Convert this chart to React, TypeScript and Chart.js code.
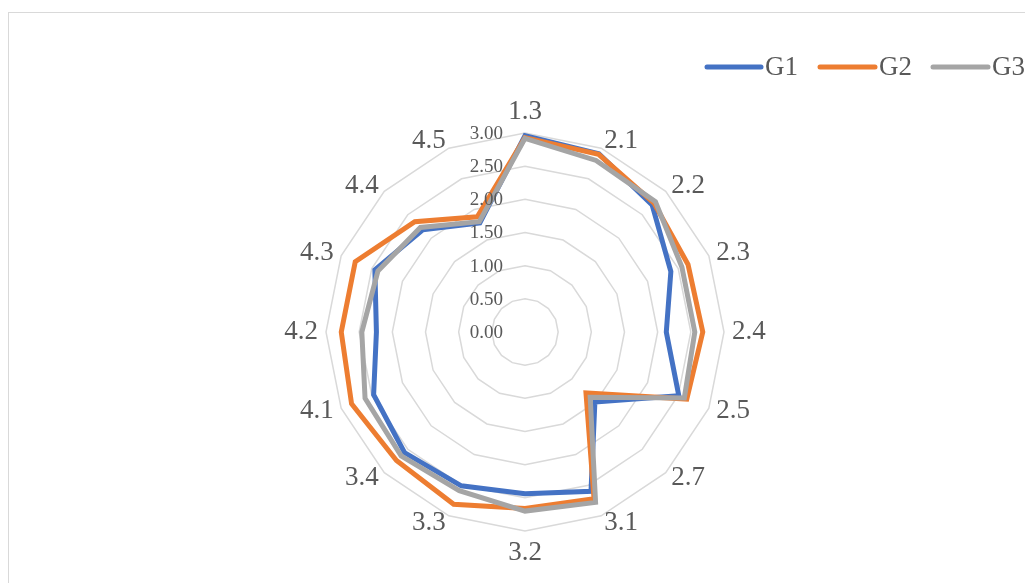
import React, { useEffect, useRef } from 'react';
import { Chart, registerables } from 'chart.js';

Chart.register(...registerables);

const categories = ['1.3', '2.1', '2.2', '2.3', '2.4', '2.5', '2.7', '3.1', '3.2', '3.3', '3.4', '4.1', '4.2', '4.3', '4.4', '4.5'];
const seriesNames = ['G1', 'G2', 'G3'];
const g1Values = [2.96, 2.91, 2.71, 2.38, 2.13, 2.51, 1.49, 2.6, 2.44, 2.51, 2.57, 2.47, 2.24, 2.45, 2.18, 1.78];
const g2Values = [2.93, 2.9, 2.75, 2.66, 2.68, 2.64, 1.3, 2.72, 2.66, 2.81, 2.74, 2.83, 2.77, 2.77, 2.35, 1.88];
const g3Values = [2.92, 2.8, 2.78, 2.56, 2.56, 2.6, 1.39, 2.78, 2.7, 2.59, 2.64, 2.61, 2.46, 2.4, 2.23, 1.8];
const tickValues = [0, 0.5, 1, 1.5, 2, 2.5, 3];
const seriesColors = ['#4472C4', '#ED7D31', '#A5A5A5'];

const FONT = "'Liberation Serif', 'Times New Roman', serif";
const TEXT_COLOR = '#595959';

const labelsPlugin = {
  id: 'excelLabels',
  afterDatasetsDraw(chart: any) {
    const ctx = chart.ctx;
    const scale = chart.scales.r;
    const cx = scale.xCenter;
    const cy = scale.yCenter;
    const R = scale.drawingArea;
    ctx.save();
    // tick labels
    ctx.font = `19px ${FONT}`;
    ctx.fillStyle = TEXT_COLOR;
    ctx.textAlign = 'right';
    ctx.textBaseline = 'middle';
    tickValues.forEach((v) => {
      const d = scale.getDistanceFromCenterForValue(v);
      ctx.fillText(v.toFixed(2), cx - 22, cy - d + 1);
    });
    // point labels
    ctx.font = `27px ${FONT}`;
    const n = categories.length;
    categories.forEach((lab, i) => {
      const p = scale.getPointPosition(i, R + 8);
      const deg = (i * 360) / n;
      if (deg === 0) {
        ctx.textAlign = 'center';
        ctx.textBaseline = 'bottom';
      } else if (deg === 180) {
        ctx.textAlign = 'center';
        ctx.textBaseline = 'top';
      } else if (deg < 180) {
        ctx.textAlign = 'left';
        ctx.textBaseline = 'middle';
      } else {
        ctx.textAlign = 'right';
        ctx.textBaseline = 'middle';
      }
      ctx.fillText(lab, p.x, p.y);
    });
    // legend
    const legendY = 67;
    const items = [
      { x1: 707, x2: 761, tx: 765 },
      { x1: 820, x2: 875, tx: 879 },
      { x1: 933, x2: 988, tx: 992 },
    ];
    items.forEach((it, k) => {
      ctx.strokeStyle = seriesColors[k];
      ctx.lineWidth = 5;
      ctx.lineCap = 'round';
      ctx.beginPath();
      ctx.moveTo(it.x1, legendY);
      ctx.lineTo(it.x2, legendY);
      ctx.stroke();
      ctx.fillStyle = TEXT_COLOR;
      ctx.textAlign = 'left';
      ctx.textBaseline = 'middle';
      ctx.font = `27px ${FONT}`;
      ctx.fillText(seriesNames[k], it.tx, legendY + 1);
    });
    ctx.restore();
  },
};

export default function App() {
  const canvasRef = useRef<HTMLCanvasElement | null>(null);

  useEffect(() => {
    const canvas = canvasRef.current;
    if (!canvas) return;
    const values = [g1Values, g2Values, g3Values];
    const chart = new Chart(canvas, {
      type: 'radar',
      data: {
        labels: categories,
        datasets: seriesNames.map((name, k) => ({
          label: name,
          data: values[k],
          borderColor: seriesColors[k],
          backgroundColor: 'transparent',
          borderWidth: 5,
          pointRadius: 0,
          pointHoverRadius: 0,
          fill: false,
          order: 3 - k,
          borderJoinStyle: 'miter' as const,
        })),
      },
      options: {
        responsive: false,
        animation: false,
        layout: { padding: { left: 326, right: 301, top: 133, bottom: 52 } },
        plugins: {
          legend: { display: false },
          tooltip: { enabled: false },
        },
        scales: {
          r: {
            min: 0,
            max: 3,
            ticks: { stepSize: 0.5, display: false },
            pointLabels: { display: false },
            angleLines: { display: false },
            grid: { color: '#d9d9d9', lineWidth: 1.5 },
          },
        },
      },
      plugins: [labelsPlugin],
    });
    return () => chart.destroy();
  }, []);

  return (
    <div style={{ position: 'fixed', left: 0, top: 0, width: 1025, height: 583, overflow: 'hidden', background: '#fff' }}>
      <div style={{ position: 'absolute', left: 8, top: 12, width: 1200, height: 800, border: '1px solid #d9d9d9' }} />
      <canvas ref={canvasRef} width={1025} height={583} style={{ position: 'absolute', left: 0, top: 0, display: 'block' }} />
    </div>
  );
}
